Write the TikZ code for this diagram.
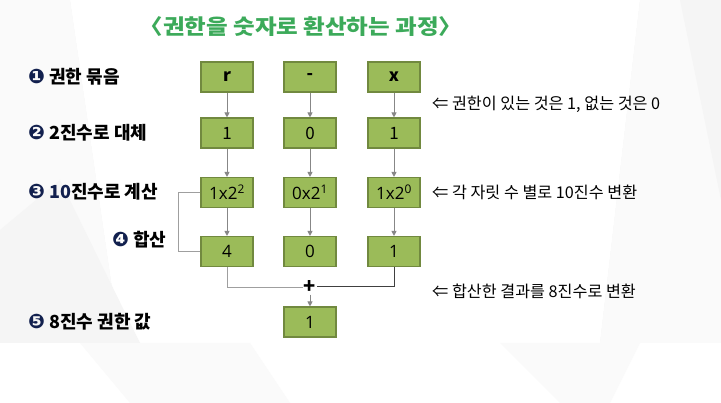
\documentclass[tikz,border=0pt]{standalone}
\usepackage{fontspec}
\setmainfont{Noto Sans CJK KR}
\newfontfamily\dvfont{DejaVu Sans}
\newfontfamily\osfont{Open Sans}
\usetikzlibrary{arrows.meta}
\definecolor{boxfill}{RGB}{155,187,89}
\definecolor{boxline}{RGB}{113,137,63}
\definecolor{titlegreen}{RGB}{60,170,90}
\definecolor{navyc}{RGB}{18,32,78}
\definecolor{arrc}{RGB}{135,135,135}
\definecolor{bgA}{RGB}{245,245,245}
\definecolor{bgB}{RGB}{250,250,250}
\newcommand\circnum[1]{{\dvfont\fontsize{20}{20}\selectfont\bfseries\color{navyc}#1}}
\begin{document}
\begin{tikzpicture}[x=1pt,y=-1pt,
  cell/.style={draw=boxline,fill=boxfill,line width=1.1pt,minimum width=52pt,minimum height=30pt,inner sep=0pt,font=\osfont\fontsize{17}{17}\selectfont},
  cellb/.style={cell,font=\fontsize{17}{17}\selectfont\bfseries},
  cellm/.style={cell,font=\fontsize{17}{17}\selectfont},
  lab/.style={anchor=west,inner sep=0pt,font=\fontsize{18}{18}\selectfont\bfseries},
  note/.style={anchor=west,inner sep=0pt,font=\fontsize{16.2}{17}\selectfont},
  flow/.style={draw=arrc,line width=0.9pt,-{Triangle[width=5pt,length=5pt]}},
  link/.style={draw=arrc!80,line width=0.9pt},
  linkd/.style={draw=black!75,line width=1pt}]
\useasboundingbox (0,0) rectangle (721,403);
% background
\fill[white] (0,0) rectangle (721,403);
\fill[bgA] (0,0) rectangle (721,343);
\fill[white] (70,0) -- (640,0) -- (600,343) -- (120,343) -- cycle;
\fill[bgB] (0,0) -- (70,0) -- (120,343) -- (0,343) -- cycle;
\fill[bgA] (0,230) -- (60,180) -- (140,343) -- (0,343) -- cycle;
\fill[bgB] (640,0) -- (721,0) -- (721,343) -- (600,343) -- cycle;
\fill[bgA] (680,0) -- (721,0) -- (721,200) -- cycle;
\fill[bgB] (80,343) -- (250,343) -- (290,403) -- (130,403) -- cycle;
\fill[bgB] (500,343) -- (640,343) -- (610,403) -- (560,403) -- cycle;
% title
\node[inner sep=0pt,font=\fontsize{21}{21}\selectfont\bfseries,text=titlegreen] (title) at (301,27) {\scalebox{1.12}[1]{〈권한을 숫자로 환산하는 과정〉}};
% boxes
\node[cellb] (r) at (227,77) {r};
\node[cellb] (d) at (310,77) {-};
\node[cellb] (x) at (394,77) {x};
\node[cellm] (b1) at (227,133) {1};
\node[cellm] (b2) at (310,133) {0};
\node[cellm] (b3) at (394,133) {1};
\node[cell] (c1) at (227,192.5) {1x2\textsuperscript{2}};
\node[cell] (c2) at (310,192.5) {0x2\textsuperscript{1}};
\node[cell] (c3) at (394,192.5) {1x2\textsuperscript{0}};
\node[cell] (s1) at (227,251.5) {4};
\node[cell] (s2) at (310,251.5) {0};
\node[cell] (s3) at (394,251.5) {1};
\node[cell] (res) at (310,322) {1};
% arrows
\foreach \a/\b in {r/b1,d/b2,x/b3,b1/c1,b2/c2,b3/c3,c1/s1,c2/s2,c3/s3}
  \draw[flow] (\a) -- (\b);
% plus
\node[inner sep=1pt,font=\fontsize{20}{20}\selectfont\bfseries] (plus) at (310,287) {+};
\coordinate (pl) at (227,287);
\coordinate (pr) at (394,287);
\draw[link] (s1.south) -- (pl) -- (plus.west);
\draw[linkd] (s3.south) -- (pr) -- (plus.east);
\draw[flow] (plus.south) -- (res.north);
% bracket
\coordinate (bt) at (178,192.5);
\coordinate (bb) at (178,251.5);
\draw[link] (c1.west) -- (bt) -- (bb) -- (s1.west);
% labels
\node[lab] (l1) at (28,77) {\circnum{❶} 권한 묶음};
\node[lab] (l2) at (28,133) {\circnum{❷} 2진수로 대체};
\node[lab] (l3) at (28,192) {\circnum{❸} {\color{navyc}10}진수로 계산};
\node[lab] (l4) at (112,240) {\circnum{❹} 합산};
\node[lab] (l5) at (28,322) {\circnum{❺} 8진수 권한 값};
% notes
\node[note] (n1) at (432,104) {⇐ 권한이 있는 것은 1, 없는 것은 0};
\node[note] (n2) at (432,192) {⇐ 각 자릿 수 별로 10진수 변환};
\node[note] (n3) at (432,291) {⇐ 합산한 결과를 8진수로 변환};
\end{tikzpicture}
\end{document}
